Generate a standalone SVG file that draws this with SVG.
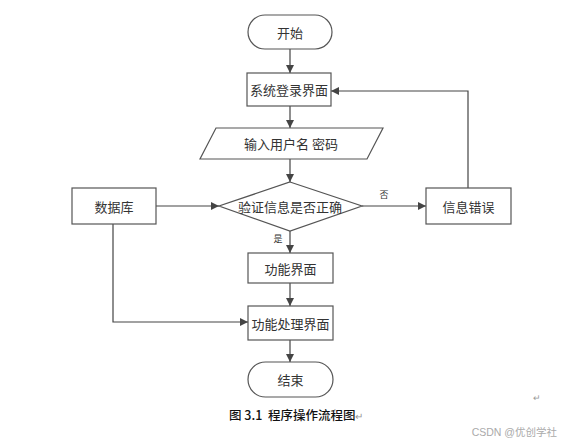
<svg xmlns="http://www.w3.org/2000/svg" width="561" height="442" viewBox="0 0 561 442">
<defs>
<style>
.n{fill:#fff;stroke:#555;stroke-width:1.2}
.t{font-family:"Noto Sans CJK SC","Liberation Sans",sans-serif;font-size:13px;fill:#333;text-anchor:middle;dominant-baseline:central}
.s{font-family:"Noto Sans CJK SC","Liberation Sans",sans-serif;font-size:9px;fill:#333;text-anchor:middle;dominant-baseline:central}
.c{fill:none;stroke:#444;stroke-width:1.2}
</style>
<marker id="a" viewBox="0 0 10 10" refX="10" refY="5" markerWidth="8" markerHeight="8" markerUnits="userSpaceOnUse" orient="auto"><path d="M0,0L10,5L0,10z" fill="#444"/></marker>
</defs>
<rect width="561" height="442" fill="#fff"/>
<g id="connectors">
<path class="c" d="M290,49V73" marker-end="url(#a)"/>
<path class="c" d="M290,106V128" marker-end="url(#a)"/>
<path class="c" d="M290,159V182" marker-end="url(#a)"/>
<path class="c" d="M156,206H219" marker-end="url(#a)"/>
<path class="c" d="M362,206H426" marker-end="url(#a)"/>
<path class="c" d="M468,188V91H331" marker-end="url(#a)"/>
<path class="c" d="M290,231V253" marker-end="url(#a)"/>
<path class="c" d="M290,283V306" marker-end="url(#a)"/>
<path class="c" d="M113,224V322H248" marker-end="url(#a)"/>
<path class="c" d="M290,340V362" marker-end="url(#a)"/>
<text class="s" x="384" y="194">否</text>
<text class="s" x="278" y="238">是</text>
</g>
<g id="start"><rect class="n" x="248" y="15" width="84" height="34" rx="17"/><text class="t" x="290" y="32">开始</text></g>
<g id="login"><rect class="n" x="247" y="73" width="84" height="33"/><text class="t" x="289" y="89.5">系统登录界面</text></g>
<g id="input"><path class="n" d="M216,128H383L367,159H200z"/><text class="t" x="291" y="143.5">输入用户名 密码</text></g>
<g id="db"><rect class="n" x="72" y="188" width="84" height="36"/><text class="t" x="114" y="206">数据库</text></g>
<g id="verify"><path class="n" d="M290,182L362,206L290,231L219,206z"/><text class="t" x="290" y="206">验证信息是否正确</text></g>
<g id="error"><rect class="n" x="426" y="188" width="85" height="36"/><text class="t" x="468.5" y="206">信息错误</text></g>
<g id="func"><rect class="n" x="248" y="253" width="85" height="30"/><text class="t" x="290.5" y="268">功能界面</text></g>
<g id="proc"><rect class="n" x="248" y="306" width="85" height="34"/><text class="t" x="290.5" y="323">功能处理界面</text></g>
<g id="end"><rect class="n" x="248" y="362" width="85" height="35" rx="17.5"/><text class="t" x="290.5" y="379.5">结束</text></g>
<text x="229" y="420" font-family="Noto Sans CJK SC,Liberation Serif,sans-serif" font-size="12.5" font-weight="500" fill="#111" xml:space="preserve">图 3.1  程序操作流程图<tspan fill="#999" font-weight="normal" font-size="10">↵</tspan></text>
<text x="537" y="401" font-family="Liberation Sans,sans-serif" font-size="9" fill="#999" text-anchor="middle">↵</text>
<text x="557" y="436" font-family="Liberation Sans,Noto Sans CJK SC,sans-serif" font-size="10.5" fill="#aaa" text-anchor="end">CSDN @优创学社</text>
</svg>
